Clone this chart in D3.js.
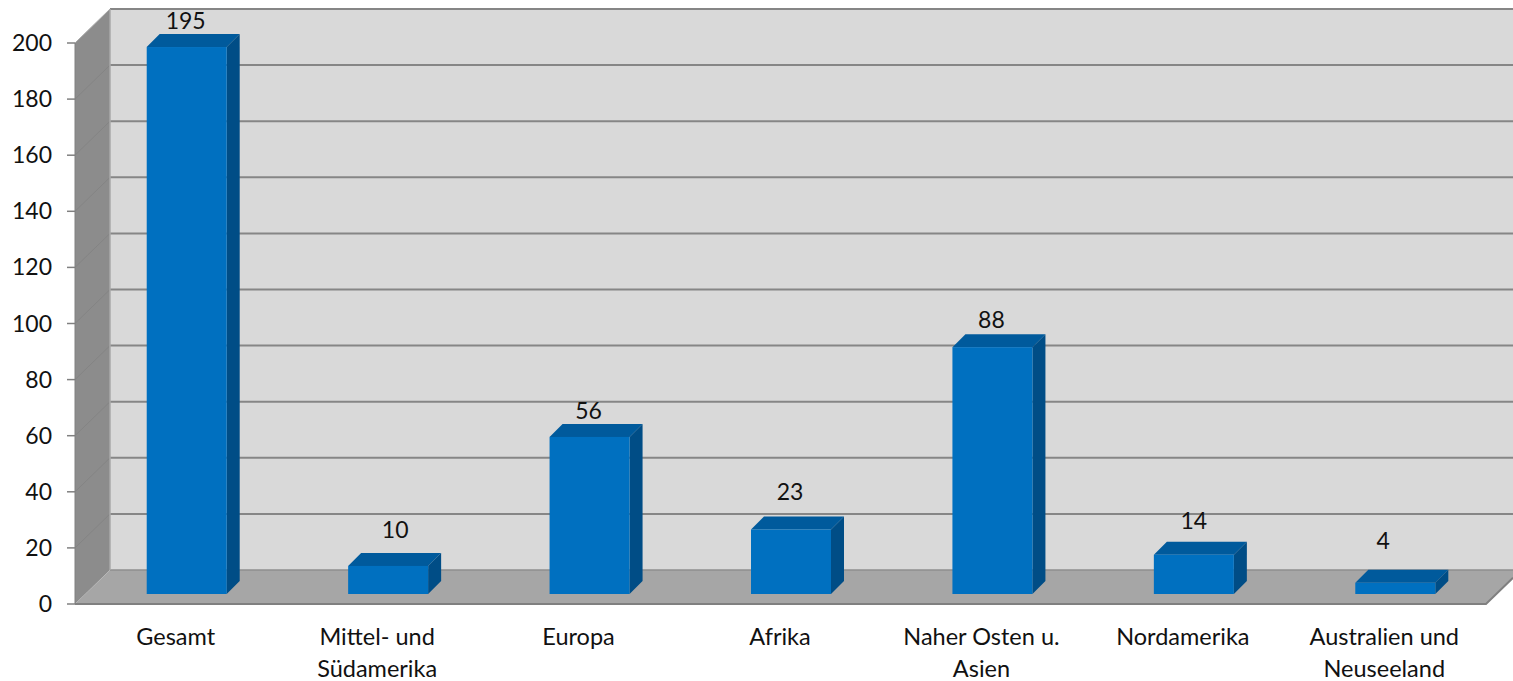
<!DOCTYPE html>
<html><head><meta charset="utf-8">
<script src="https://cdn.jsdelivr.net/npm/d3@7"></script>
<style>html,body{margin:0;padding:0;background:#fff;overflow:hidden}svg{display:block}
text{font-family:Lato,"Open Sans",sans-serif;fill:#111}</style></head>
<body><svg id="c" width="1513" height="681"></svg>
<script>
const categories=[["Gesamt"],["Mittel- und","Südamerika"],["Europa"],["Afrika"],["Naher Osten u.","Asien"],["Nordamerika"],["Australien und","Neuseeland"]];
const values=[195,10,56,23,88,14,4];
const tickValues=d3.range(0,201,20);
const labelLift=[5,15,5,16,6,13,21];
const labelShift=[-1,7,-1,-1,-1,0,-12];

const svg=d3.select("#c");
const y=d3.scaleLinear().domain([0,200]).range([604,43]);
const x=d3.scaleBand().domain(d3.range(values.length)).range([75,1485]).paddingInner(0).paddingOuter(0);
const dx=35,dy=-34;              // depth of the chart box
const barW=80,bx=13,by=-13;      // bar width and bar depth
const fOff=10;                   // bars sit inside the box
const barX=i=>x(i)+x.bandwidth()/2-barW/2+11;
const poly=p=>p.map(q=>q.join(",")).join(" ");

// walls
svg.append("polygon").attr("points",poly([[75+dx,y(200)+dy],[1530,y(200)+dy],[1530,y(0)+dy],[75+dx,y(0)+dy]])).attr("fill","#d9d9d9");
svg.append("polygon").attr("points",poly([[75,y(200)],[75+dx,y(200)+dy],[75+dx,y(0)+dy],[75,y(0)]])).attr("fill","#8c8c8c");
svg.append("polygon").attr("points",poly([[75,y(0)],[75+dx,y(0)+dy],[1486+dx,y(0)+dy],[1486,y(0)]])).attr("fill","#a6a6a6");

// gridlines
const grid=svg.append("g").selectAll("g").data(tickValues).join("g");
grid.filter(d=>d>0).append("line").attr("x1",75+dx).attr("x2",1513).attr("y1",d=>y(d)+dy).attr("y2",d=>y(d)+dy).attr("stroke","#868686").attr("stroke-width",2);
grid.filter(d=>d>0&&d<200).append("line").attr("x1",75).attr("x2",75+dx).attr("y1",d=>y(d)).attr("y2",d=>y(d)+dy).attr("stroke","#848484").attr("stroke-width",1);
svg.append("line").attr("x1",75+dx).attr("x2",1513).attr("y1",y(0)+dy).attr("y2",y(0)+dy).attr("stroke","#8e8e8e").attr("stroke-width",1.5);
svg.append("line").attr("x1",75+dx).attr("x2",75+dx).attr("y1",y(200)+dy).attr("y2",y(0)+dy).attr("stroke","#a8a8a8").attr("stroke-width",1.5);
svg.append("path").attr("d",`M75,${y(0)}L1486,${y(0)}L1513,${y(0)+dy*27/35}`).attr("fill","none").attr("stroke","#808080").attr("stroke-width",2);
svg.append("line").attr("x1",75).attr("x2",75+dx).attr("y1",y(200)).attr("y2",y(200)+dy).attr("stroke","#a8a8a8");
svg.append("line").attr("x1",75).attr("x2",75).attr("y1",y(200)).attr("y2",y(0)).attr("stroke","#808080");

// ticks and labels
svg.append("g").selectAll("line").data(tickValues).join("line").attr("x1",67).attr("x2",75).attr("y1",d=>y(d)).attr("y2",d=>y(d)).attr("stroke","#808080").attr("stroke-width",1.5);
svg.append("g").selectAll("text").data(tickValues).join("text").attr("x",52).attr("y",d=>y(d)+8).attr("text-anchor","end").attr("font-size",23).text(d=>d);

// bars
const bars=svg.append("g").selectAll("g").data(values).join("g");
bars.append("polygon").attr("fill","#005a9c").attr("points",(d,i)=>{const a=barX(i),t=y(d)-fOff;return poly([[a,t],[a+bx,t+by],[a+barW+bx,t+by],[a+barW,t]]);});
bars.append("polygon").attr("fill","#004d86").attr("points",(d,i)=>{const a=barX(i)+barW,t=y(d)-fOff,b=y(0)-fOff;return poly([[a,t],[a+bx,t+by],[a+bx,b+by],[a,b]]);});
bars.append("rect").attr("fill","#0070c0").attr("x",(d,i)=>barX(i)).attr("width",barW).attr("y",d=>y(d)-fOff).attr("height",d=>y(0)-y(d));

// value labels
svg.append("g").selectAll("text").data(values).join("text").attr("text-anchor","middle").attr("font-size",23)
 .attr("x",(d,i)=>barX(i)+barW/2+labelShift[i])
 .attr("y",(d,i)=>y(d)-fOff+by-labelLift[i]).text(d=>d);

// category labels
svg.append("g").selectAll("text").data(categories).join("text").attr("text-anchor","middle").attr("font-size",23.5)
 .each(function(lines,i){d3.select(this).selectAll("tspan").data(lines).join("tspan").attr("x",x(i)+x.bandwidth()/2).attr("y",(l,j)=>645+j*32).text(l=>l);});
</script></body></html>
